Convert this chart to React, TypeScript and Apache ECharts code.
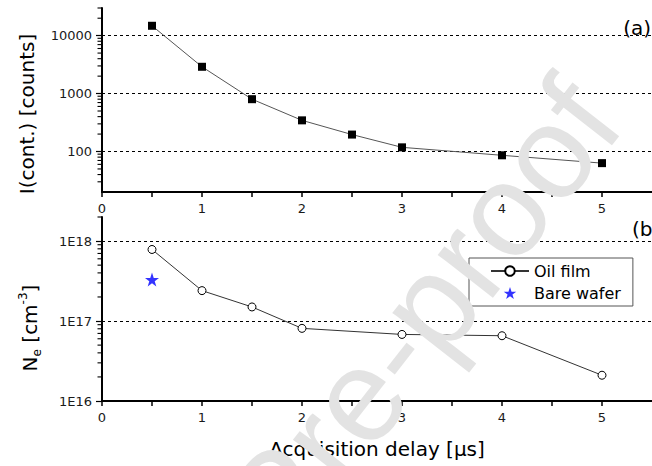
import React, { useEffect, useRef } from "react";
import * as echarts from "echarts";

// ---- data ----
const delayTop = [0.5, 1, 1.5, 2, 2.5, 3, 4, 5];
const intensityCounts = [14800, 2900, 800, 345, 196, 118, 86, 63];

const delayOil = [0.5, 1, 1.5, 2, 3, 4, 5];
const densityOil = [7.85e17, 2.4e17, 1.5e17, 8.1e16, 6.8e16, 6.55e16, 2.1e16];

const delayBare = [0.5];
const densityBare = [3.3e17];

const topDecades = [10, 100, 1000, 10000];
const bottomDecades = [1e16, 1e17, 1e18];
const minorMultipliers = [2, 3, 4, 5, 6, 7, 8, 9];

const FONT = "DejaVu Sans";

function minorTicks(decades: number[], lo: number, hi: number) {
  const out: number[] = [];
  decades.forEach((d) => {
    minorMultipliers.forEach((m) => {
      const v = d * m;
      if (v > lo && v <= hi) out.push(v);
    });
  });
  return out;
}

const STAR =
  "path://M50,0 L61.8,35.1 L97.6,35.1 L68.5,56.7 L79.4,91 L50,70 L20.6,91 L31.5,56.7 L2.4,35.1 L38.2,35.1 Z";

export default function App() {
  const ref = useRef<HTMLDivElement>(null);

  useEffect(() => {
    if (!ref.current) return;
    const chart = echarts.init(ref.current, undefined, { renderer: "svg" });

    const xAxisBase = (gridIndex: number) => ({
      type: "value",
      gridIndex,
      min: 0,
      max: 5.5,
      interval: 0.5,
      axisLine: { show: true, onZero: false, lineStyle: { color: "#000", width: 2 } },
      axisTick: { show: true, length: 5, lineStyle: { color: "#000", width: 1.5 } },
      axisLabel: {
        margin: 10,
        fontSize: 13,
        fontFamily: FONT,
        color: "#1a1a1a",
        showMaxLabel: false,
        formatter: (v: number) => (Number.isInteger(v) ? String(v) : ""),
      },
      splitLine: { show: false },
    });

    const yAxisBase = (
      gridIndex: number,
      min: number,
      max: number,
      showMin: boolean,
      fmt: (v: number) => string
    ) => ({
      type: "log",
      logBase: 10,
      gridIndex,
      min,
      max,
      axisLine: { show: true, lineStyle: { color: "#000", width: 2 } },
      axisTick: { show: true, length: 6, lineStyle: { color: "#000", width: 1.2 } },
      axisLabel: {
        margin: 10,
        fontSize: 13,
        fontFamily: FONT,
        color: "#1a1a1a",
        showMinLabel: showMin,
        showMaxLabel: false,
        formatter: fmt,
      },
      splitLine: {
        show: true,
        showMinLine: false,
        showMaxLine: false,
        lineStyle: { color: "#000", width: 1, type: [3, 3] },
      },
    });

    const bottomX = xAxisBase(1) as any;
    bottomX.name = "Acquisition delay [\u03bcs]";
    bottomX.nameLocation = "middle";
    bottomX.nameGap = 38;
    bottomX.nameTextStyle = { fontSize: 20, fontFamily: FONT, color: "#000" };

    chart.setOption({
      animation: false,
      backgroundColor: "#fff",
      grid: [
        { left: 102, top: 8, width: 555.5, height: 184 },
        { left: 102, top: 217, width: 555.5, height: 184 },
      ],
      xAxis: [xAxisBase(0), bottomX],
      yAxis: [
        yAxisBase(0, 20, 30000, false, (v: number) => String(Math.round(v))),
        yAxisBase(1, 1e16, 2e18, true, (v: number) => "1E" + Math.round(Math.log10(v))),
      ],
      legend: {
        data: ["Oil film", "Bare wafer"],
        orient: "vertical",
        left: 469,
        top: 258,
        padding: [5, 12, 5, 21],
        itemGap: 6,
        itemWidth: 38,
        itemHeight: 12,
        borderColor: "#555",
        borderWidth: 1,
        textStyle: { fontSize: 16, fontFamily: FONT, color: "#000" },
      },
      series: [
        {
          name: "I(cont.)",
          type: "line",
          xAxisIndex: 0,
          yAxisIndex: 0,
          data: delayTop.map((x, i) => [x, intensityCounts[i]]),
          symbol: "rect",
          symbolSize: 8,
          itemStyle: { color: "#000" },
          lineStyle: { color: "#555", width: 1 },
        },
        {
          name: "Oil film",
          type: "line",
          xAxisIndex: 1,
          yAxisIndex: 1,
          data: delayOil.map((x, i) => [x, densityOil[i]]),
          symbol: "circle",
          symbolSize: 8,
          itemStyle: { color: "#fff", borderColor: "#000", borderWidth: 1 },
          lineStyle: { color: "#333", width: 1 },
        },
        {
          name: "Bare wafer",
          type: "scatter",
          xAxisIndex: 1,
          yAxisIndex: 1,
          data: delayBare.map((x, i) => [x, densityBare[i]]),
          symbol: STAR,
          symbolSize: 14,
          itemStyle: { color: "#0000ff" },
        },
      ],
    });

    // minor log ticks, positioned through the chart's own axis scales
    const tickLines: any[] = [];
    const addTicks = (gridIndex: number, values: number[]) => {
      values.forEach((v) => {
        const p = chart.convertToPixel({ gridIndex }, [0, v]) as number[];
        if (!p || isNaN(p[1])) return;
        tickLines.push({
          type: "line",
          silent: true,
          shape: { x1: p[0] - 4.5, y1: p[1], x2: p[0], y2: p[1] },
          style: { stroke: "#000", lineWidth: 1.1 },
        });
      });
    };
    addTicks(0, minorTicks(topDecades, 20, 30000));
    addTicks(1, minorTicks(bottomDecades, 1e16, 2e18));

    chart.setOption({
      graphic: [
        ...tickLines,
        {
          type: "text",
          x: 27,
          y: 114,
          rotation: Math.PI / 2,
          style: {
            text: "I(cont.) [counts]",
            font: `20px "${FONT}"`,
            fill: "#000",
            align: "center",
            verticalAlign: "middle",
          },
        },
        {
          type: "text",
          x: 30,
          y: 328,
          rotation: Math.PI / 2,
          style: {
            text: "{n|N}{sub|e}{n| [cm}{sup|-3}{n|]}",
            align: "center",
            verticalAlign: "middle",
            rich: {
              n: { fontSize: 20, fontFamily: FONT, fill: "#000", lineHeight: 26 },
              sub: { fontSize: 12, fontFamily: FONT, fill: "#000", lineHeight: 12, verticalAlign: "bottom" },
              sup: { fontSize: 12, fontFamily: FONT, fill: "#000", lineHeight: 12, verticalAlign: "top" },
            },
          },
        },
        {
          type: "text",
          x: 651,
          y: 28,
          style: {
            text: "(a)",
            font: `20px "${FONT}"`,
            fill: "#000",
            align: "right",
            verticalAlign: "middle",
          },
        },
        {
          type: "text",
          x: 632,
          y: 229,
          style: {
            text: "(b)",
            font: `20px "${FONT}"`,
            fill: "#000",
            align: "left",
            verticalAlign: "middle",
          },
        },
        {
          type: "text",
          z: 100,
          x: 643,
          y: 138,
          rotation: (52 * Math.PI) / 180,
          silent: true,
          style: {
            text: "Journal Pre-proof",
            font: `132px "Liberation Sans"`,
            fill: "#e3e3e3",
            align: "right",
            verticalAlign: "bottom",
          },
        },
      ],
    });

    return () => chart.dispose();
  }, []);

  return (
    <div
      ref={ref}
      style={{ position: "absolute", left: 0, top: 0, width: 652, height: 466 }}
    />
  );
}
